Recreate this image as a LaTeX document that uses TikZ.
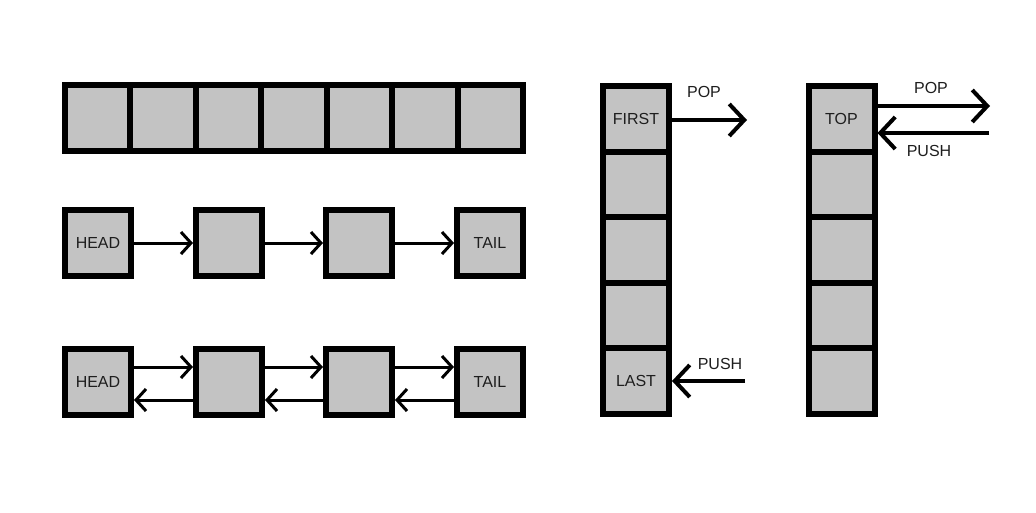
\documentclass[tikz,border=0pt]{standalone}
\usepackage{fontspec}
\setmainfont{Liberation Sans}
\usetikzlibrary{arrows.meta}
\definecolor{cellgray}{HTML}{C3C3C3}
\definecolor{txt}{HTML}{1E1E1E}
\begin{document}
\begin{tikzpicture}[x=1pt,y=-1pt,
  cell/.style={draw=black,fill=cellgray,line width=6pt,inner sep=0pt,outer sep=3pt,
    font=\fontsize{16}{16}\selectfont,text=txt},
  box/.style={cell,minimum width=66pt,minimum height=66pt},
  acell/.style={cell,minimum width=65.43pt,minimum height=66pt,outer sep=0pt},
  vcell/.style={cell,minimum width=66pt,minimum height=65.6pt,outer sep=0pt},
  link/.style={line width=3pt,-{Straight Barb[length=10pt,width=22pt,line width=3pt]}},
  op/.style={line width=4pt,-{Straight Barb[length=15pt,width=32pt,line width=4pt]}},
  lbl/.style={font=\fontsize{16}{16}\selectfont,text=txt,inner sep=0pt}]
\useasboundingbox[fill=white] (0,0) rectangle (1036,512);
% array
\foreach \i in {0,...,6}{
  \node[acell] (a\i) at ({65+65.43*(\i+0.5)},118) {};
}
% singly linked list
\node[box] (h1) at (98,243) {HEAD};
\node[box] (b1) at (229,243) {};
\node[box] (c1) at (359,243) {};
\node[box] (t1) at (490,243) {TAIL};
\draw[link] (h1.east) -- (b1.west);
\draw[link] (b1.east) -- (c1.west);
\draw[link] (c1.east) -- (t1.west);
% doubly linked list
\node[box] (h2) at (98,382) {\raisebox{-2pt}{HEAD}};
\node[box] (b2) at (229,382) {};
\node[box] (c2) at (359,382) {};
\node[box] (t2) at (490,382) {\raisebox{1pt}{TAIL}};
\draw[link] ([yshift=15pt]h2.east) -- ([yshift=15pt]b2.west);
\draw[link] ([yshift=15pt]b2.east) -- ([yshift=15pt]c2.west);
\draw[link] ([yshift=15pt]c2.east) -- ([yshift=15pt]t2.west);
\draw[link] ([yshift=-18pt]b2.west) -- ([yshift=-18pt]h2.east);
\draw[link] ([yshift=-18pt]c2.west) -- ([yshift=-18pt]b2.east);
\draw[link] ([yshift=-18pt]t2.west) -- ([yshift=-18pt]c2.east);
% queue
\node[vcell] (q0) at (636,{86+65.6*0.5}) {FIRST};
\foreach \i in {1,2,3}{
  \node[vcell] (q\i) at (636,{86+65.6*(\i+0.5)}) {};
}
\node[vcell] (q4) at (636,{86+65.6*4.5}) {LAST};
\coordinate (qpop) at (747,120);
\coordinate (qpush) at (745,381);
\draw[op] ([xshift=3pt]q0.east |- qpop) -- (qpop);
\draw[op] (qpush) -- ([xshift=3pt]q4.east |- qpush);
\node[lbl] (qpoplbl) at (704,92) {POP};
\node[lbl] (qpushlbl) at (720,364) {PUSH};
% stack
\node[vcell] (s0) at (841.5,{86+65.6*0.5}) {TOP};
\foreach \i in {1,...,4}{
  \node[vcell] (s\i) at (841.5,{86+65.6*(\i+0.5)}) {};
}
\coordinate (spop) at (990,106);
\coordinate (spush) at (989,133);
\draw[op] ([xshift=3pt]s0.east |- spop) -- (spop);
\draw[op] (spush) -- ([xshift=3pt]s0.east |- spush);
\node[lbl] (spoplbl) at (931,88) {POP};
\node[lbl] (spushlbl) at (929,151) {PUSH};
\end{tikzpicture}
\end{document}
